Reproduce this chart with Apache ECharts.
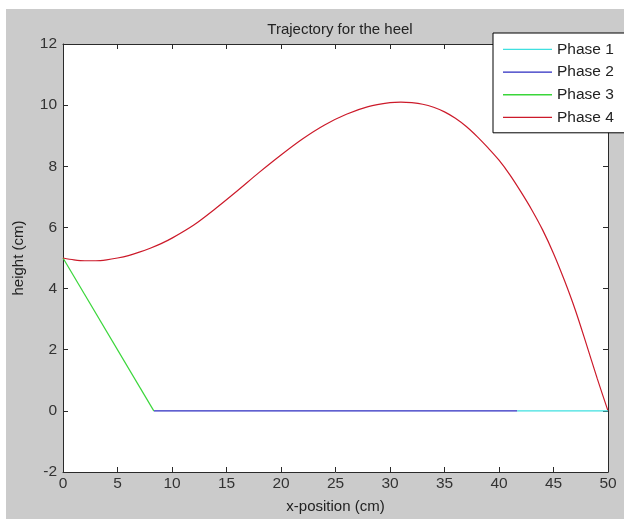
<!DOCTYPE html>
<html>
<head>
<meta charset="utf-8">
<script src="https://cdn.jsdelivr.net/npm/echarts@6/dist/echarts.min.js"></script>
<style>html,body{margin:0;padding:0;background:#fff;}#c{width:624px;height:519px;}</style>
</head>
<body>
<div id="c"></div>
<script>
const titleText = 'Trajectory for the heel';
const xName = 'x-position (cm)';
const yName = 'height (cm)';
const seriesNames = ['Phase 1', 'Phase 2', 'Phase 3', 'Phase 4'];

const phase1X = [41.67, 50];
const phase1Y = [0, 0];
const phase2X = [8.33, 41.67];
const phase2Y = [0, 0];
const phase3X = [0, 8.33];
const phase3Y = [5, 0];
const phase4X = [0, 1, 2, 3, 4, 5, 6, 7, 8, 9, 10, 12, 14, 16, 18, 20, 22, 24, 26, 28, 30, 31, 32, 33, 34, 35, 36, 37, 38, 39, 40, 41, 42, 43, 44, 45, 46, 47, 48, 49, 50];
const phase4Y = [5.0, 4.94, 4.91, 4.91, 4.94, 5.0, 5.08, 5.19, 5.32, 5.47, 5.65, 6.08, 6.62, 7.2, 7.8, 8.37, 8.9, 9.35, 9.7, 9.95, 10.08, 10.1, 10.08, 10.03, 9.93, 9.78, 9.57, 9.3, 8.97, 8.6, 8.2, 7.72, 7.17, 6.58, 5.92, 5.15, 4.27, 3.3, 2.2, 1.07, 0];

const colors = ['#3fe0e0', '#2b2bc0', '#3ad63a', '#cc1a2a'];
const xMin = 0, xMax = 50, xStep = 5;
const yMin = -2, yMax = 12, yStep = 2;

function pairs(xs, ys) { return xs.map((x, i) => [x, ys[i]]); }
const allData = [pairs(phase1X, phase1Y), pairs(phase2X, phase2Y), pairs(phase3X, phase3Y), pairs(phase4X, phase4Y)];

const font = "'Liberation Sans', Arial, sans-serif";
const axisColor = '#2a2a2a';
const tick = {show: true, inside: true, length: 5, lineStyle: {color: axisColor, width: 1}};

const chart = echarts.init(document.getElementById('c'), null, {renderer: 'canvas'});
chart.setOption({
  animation: false,
  backgroundColor: '#fff',
  graphic: [{
    type: 'rect', left: 6, top: 9, z: -10, silent: true,
    shape: {width: 618, height: 510},
    style: {fill: '#cbcbcb'}
  }, {
    type: 'rect', left: 63, top: 44, z: -9, silent: true,
    shape: {width: 545, height: 429},
    style: {fill: '#fff'}
  }],
  title: {
    text: titleText, left: 335, top: 17, textAlign: 'center',
    textStyle: {fontFamily: font, fontSize: 15, fontWeight: 'normal', color: '#222'}
  },
  legend: {
    orient: 'vertical', left: 493, top: 33, z: 20,
    backgroundColor: '#fff', borderColor: '#000', borderWidth: 1,
    padding: [5, 16, 4, 10], itemWidth: 49, itemHeight: 1.3, itemGap: 0,
    icon: 'rect',
    textStyle: {fontFamily: font, fontSize: 15.5, color: '#222', lineHeight: 22.7},
    data: seriesNames
  },
  grid: {
    left: 63, top: 44, right: 16, bottom: 46, show: false
  },
  xAxis: [{
    type: 'value', min: xMin, max: xMax, interval: xStep, position: 'bottom',
    name: xName, nameLocation: 'middle', nameGap: 27,
    nameTextStyle: {fontFamily: font, fontSize: 15, color: '#222'},
    axisLine: {show: true, onZero: false, lineStyle: {color: axisColor}},
    axisTick: tick,
    axisLabel: {fontFamily: font, fontSize: 15.5, color: '#333', margin: 4},
    splitLine: {show: false}
  }, {
    type: 'value', min: xMin, max: xMax, interval: xStep, position: 'top',
    axisLine: {show: true, onZero: false, lineStyle: {color: axisColor}},
    axisTick: tick,
    axisLabel: {show: false}, splitLine: {show: false}
  }],
  yAxis: [{
    type: 'value', min: yMin, max: yMax, interval: yStep, position: 'left',
    name: yName, nameLocation: 'middle', nameGap: 37,
    nameTextStyle: {fontFamily: font, fontSize: 15, color: '#222'},
    axisLine: {show: true, onZero: false, lineStyle: {color: axisColor}},
    axisTick: tick,
    axisLabel: {fontFamily: font, fontSize: 15.5, color: '#333', margin: 6},
    splitLine: {show: false}
  }, {
    type: 'value', min: yMin, max: yMax, interval: yStep, position: 'right',
    axisLine: {show: true, onZero: false, lineStyle: {color: axisColor}},
    axisTick: tick,
    axisLabel: {show: false}, splitLine: {show: false}
  }],
  series: seriesNames.map((name, i) => ({
    name: name, type: 'line', xAxisIndex: 0, yAxisIndex: 0,
    data: allData[i], showSymbol: false, symbol: 'none',
    smooth: i === 3 ? 0.3 : false,
    lineStyle: {color: colors[i], width: 1.2},
    itemStyle: {color: colors[i]},
    z: i === 0 ? 5 : 3
  }))
});
</script>
</body>
</html>
